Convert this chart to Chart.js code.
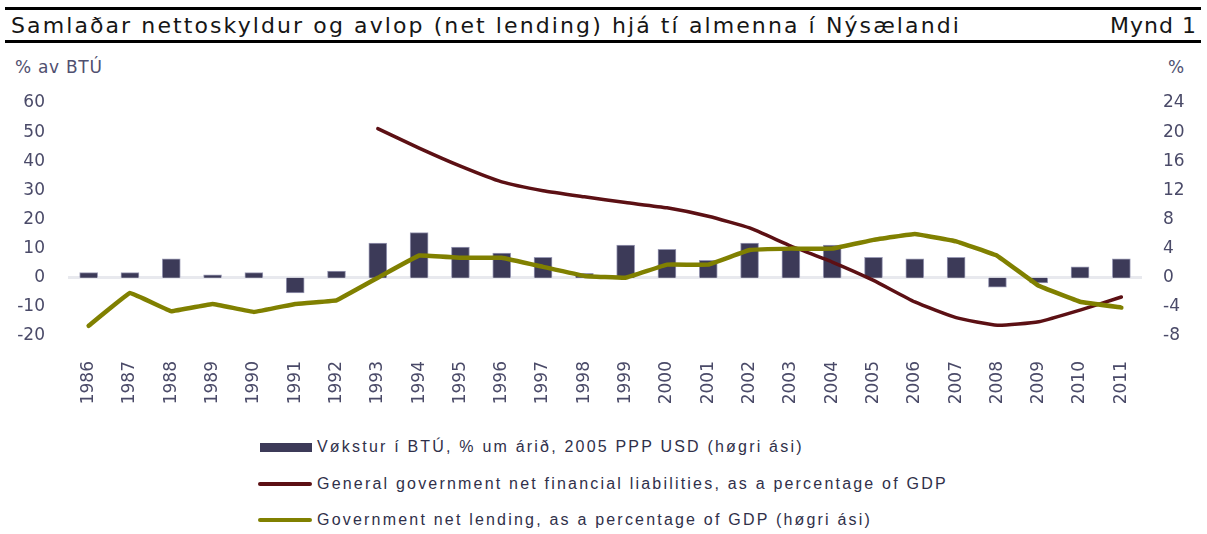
<!DOCTYPE html>
<html>
<head>
<meta charset="utf-8">
<script src="https://cdn.jsdelivr.net/npm/chart.js@4.4.1/dist/chart.umd.min.js"></script>
<style>
  body { margin: 0; width: 1207px; height: 534px; background: #fff; position: relative; overflow: hidden; font-family: "DejaVu Sans", sans-serif; }
  .rule { position: absolute; left: 5px; width: 1196px; height: 3px; background: #000; }
  .head { position: absolute; top: 14px; font-size: 22px; line-height: 24px; letter-spacing: 2.1px; color: #161616; white-space: nowrap; }
  .unit { position: absolute; top: 57px; font-size: 17px; line-height: 20px; letter-spacing: 0.7px; color: #505070; white-space: nowrap; }
  #wrap { position: absolute; left: 0; top: 53px; width: 1207px; height: 350px; }
  .row { position: absolute; left: 258px; height: 18px; display: flex; align-items: center; white-space: nowrap;
         font-family: "Liberation Sans", Arial, sans-serif; font-size: 16px; letter-spacing: 2.2px; color: #30304a; }
  .sw-bar { display: inline-block; width: 52px; height: 9px; margin-left: 2px; }
  .sw-line { display: inline-block; width: 54px; height: 3.5px; border-radius: 2px; }
  .row .txt { margin-left: 5px; }
</style>
</head>
<body>
<div class="rule" style="top:7px"></div>
<div class="head" style="left:11px">Samlaðar nettoskyldur og avlop (net lending) hjá tí almenna í Nýsælandi</div>
<div class="head" style="right:10px; letter-spacing:1px">Mynd 1</div>
<div class="rule" style="top:40px"></div>
<div class="unit" style="left:15px">% av BTÚ</div>
<div class="unit" style="left:1168px">%</div>
<div id="wrap"><canvas id="chart" width="1207" height="350"></canvas></div>
<div id="legend"></div>
<script>
const years = ['1986', '1987', '1988', '1989', '1990', '1991', '1992', '1993', '1994', '1995', '1996', '1997', '1998',
  '1999', '2000', '2001', '2002', '2003', '2004', '2005', '2006', '2007', '2008', '2009', '2010', '2011'];

// growth in GDP, right axis
const growth = [0.7, 0.7, 2.6, 0.4, 0.7, -2.1, 0.9, 4.75, 6.2, 4.2, 3.4, 2.8, 0.6,
  4.5, 3.9, 2.4, 4.75, 4.0, 4.5, 2.8, 2.6, 2.8, -1.3, -0.7, 1.5, 2.6];

// net financial liabilities, left axis (no data before 1993)
const netLiabilities = [null, null, null, null, null, null, null, 51.2, 44.5, 38.3, 32.9, 29.9, 27.8,
  25.8, 24.0, 21.1, 17.1, 10.9, 5.4, -0.9, -8.3, -13.7, -16.3, -15.1, -11.1, -6.6];

// net lending, right axis
const netLending = [-6.6, -2.1, -4.6, -3.6, -4.7, -3.6, -3.1, 0, 3.05, 2.75, 2.75, 1.5, 0.25,
  0, 1.8, 1.8, 3.8, 4.0, 4.0, 5.2, 6.0, 5.0, 3.0, -1.1, -3.3, -4.1];

const labels = [
  'Vøkstur í BTÚ, % um árið, 2005 PPP USD (høgri ási)',
  'General government net financial liabilities, as a percentage of GDP',
  'Government net lending, as a percentage of GDP (høgri ási)'
];

const tickColor = '#4a4a68';
const tickFont = { family: 'DejaVu Sans', size: 17 };

const chart = new Chart(document.getElementById('chart'), {
  data: {
    labels: years,
    datasets: [
      {
        type: 'bar', label: labels[0], data: growth, yAxisID: 'yR',
        backgroundColor: '#3c3a58', borderColor: '#9a9ab4', borderWidth: 1, barThickness: 18, order: 3
      },
      {
        type: 'line', label: labels[1], data: netLiabilities, yAxisID: 'yL',
        borderColor: '#5c1014', borderWidth: 3.5, pointRadius: 0, tension: 0.15,
        borderJoinStyle: 'round', borderCapStyle: 'round', order: 2
      },
      {
        type: 'line', label: labels[2], data: netLending, yAxisID: 'yR',
        borderColor: '#808000', borderWidth: 4.5, pointRadius: 0, tension: 0.05,
        borderJoinStyle: 'round', borderCapStyle: 'round', order: 1
      }
    ]
  },
  options: {
    responsive: false,
    animation: false,
    layout: { padding: { top: 50, left: 0, right: 0, bottom: 0 } },
    plugins: { legend: { display: false }, tooltip: { enabled: false } },
    scales: {
      x: {
        grid: { display: false, drawTicks: false },
        border: { display: false },
        ticks: { autoSkip: false, minRotation: 90, maxRotation: 90, padding: 25, color: tickColor, font: tickFont },
        afterFit: s => { s.height = 67; }
      },
      yL: {
        position: 'left', min: -20, max: 60,
        ticks: { stepSize: 10, padding: 23, color: tickColor, font: tickFont },
        grid: {
          drawTicks: false, lineWidth: 3,
          color: c => (c.tick && c.tick.value === 0) ? '#e8e9ee' : 'rgba(0,0,0,0)'
        },
        border: { display: false },
        afterFit: s => { s.width = 68; }
      },
      yR: {
        position: 'right', min: -8, max: 24,
        ticks: { stepSize: 4, padding: 21, color: tickColor, font: tickFont },
        grid: { display: false, drawTicks: false },
        border: { display: false },
        afterFit: s => { s.width = 65; }
      }
    }
  }
});

// legend in three rows under the chart
const legendTops = [438, 475, 511];
const legend = document.getElementById('legend');
chart.data.datasets.forEach((ds, i) => {
  const row = document.createElement('div');
  row.className = 'row';
  row.style.top = legendTops[i] + 'px';
  const sw = document.createElement('span');
  sw.className = ds.type === 'bar' ? 'sw-bar' : 'sw-line';
  sw.style.background = ds.type === 'bar' ? ds.backgroundColor : ds.borderColor;
  const tx = document.createElement('span');
  tx.className = 'txt';
  tx.textContent = ds.label;
  row.appendChild(sw);
  row.appendChild(tx);
  legend.appendChild(row);
});
</script>
</body>
</html>
